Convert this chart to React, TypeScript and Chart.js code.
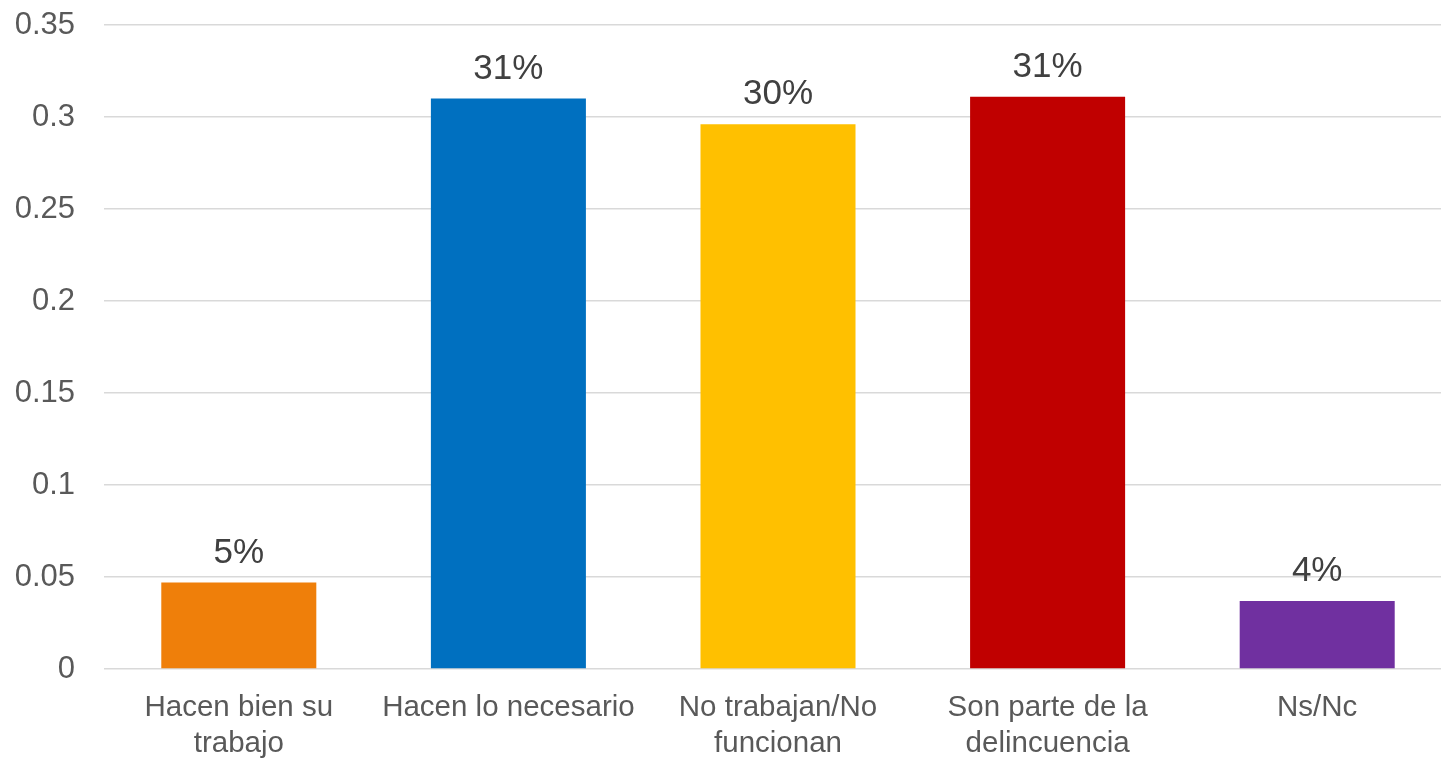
import React, { useEffect, useRef } from "react";
import { Chart, registerables } from "chart.js";

Chart.register(...registerables);

const categories: string[][] = [
  ["Hacen bien su", "trabajo"],
  ["Hacen lo necesario"],
  ["No trabajan/No", "funcionan"],
  ["Son parte de la", "delincuencia"],
  ["Ns/Nc"],
];
const values: number[] = [0.047, 0.31, 0.296, 0.311, 0.037];
const barColors: string[] = ["#EF7F0A", "#0070C0", "#FFC000", "#C00000", "#7030A0"];

const FONT = "'Liberation Sans', Arial, sans-serif";

const dataLabels = {
  id: "dataLabels",
  afterDatasetsDraw(chart: any) {
    const ctx = chart.ctx;
    const meta = chart.getDatasetMeta(0);
    ctx.save();
    ctx.fillStyle = "#404040";
    ctx.font = `35px ${FONT}`;
    ctx.textAlign = "center";
    ctx.textBaseline = "alphabetic";
    meta.data.forEach((el: any, i: number) => {
      const v = chart.data.datasets[0].data[i] as number;
      ctx.fillText(Math.round(v * 100) + "%", el.x, el.y - 20);
    });
    ctx.restore();
  },
};

export default function App() {
  const ref = useRef<HTMLCanvasElement>(null);
  useEffect(() => {
    if (!ref.current) return;
    const chart = new Chart(ref.current, {
      type: "bar",
      data: {
        labels: categories,
        datasets: [
          {
            data: values,
            backgroundColor: barColors,
            borderWidth: 0,
            categoryPercentage: 1,
            barPercentage: 0.575,
          },
        ],
      },
      options: {
        responsive: false,
        animation: false,
        layout: { padding: { top: 25, right: 0, left: 0, bottom: 0 } },
        plugins: { legend: { display: false }, tooltip: { enabled: false } },
        scales: {
          x: {
            grid: { display: false, drawTicks: false },
            border: { display: false },
            ticks: {
              color: "#595959",
              font: { family: FONT, size: 29.5, lineHeight: 1.25 },
              padding: 20,
              maxRotation: 0,
              autoSkip: false,
            },
            afterFit(scale: any) {
              scale.height = 91;
            },
          },
          y: {
            min: 0,
            max: 0.35,
            grid: { color: "#d9d9d9", lineWidth: 1.5, drawTicks: false },
            border: { display: false },
            ticks: {
              stepSize: 0.05,
              color: "#595959",
              font: { family: FONT, size: 31 },
              padding: 29,
              callback: (v: any) => String(Math.round(Number(v) * 100) / 100),
            },
            afterFit(scale: any) {
              scale.width = 104;
              scale.paddingTop = 0;
            },
          },
        },
      },
      plugins: [dataLabels],
    });
    return () => chart.destroy();
  }, []);
  return (
    <div
      style={{
        position: "fixed",
        left: 0,
        top: 0,
        width: 1441,
        height: 760,
        overflow: "hidden",
        background: "#fff",
      }}
    >
      <canvas ref={ref} width={1452} height={760} style={{ display: "block" }} />
    </div>
  );
}
